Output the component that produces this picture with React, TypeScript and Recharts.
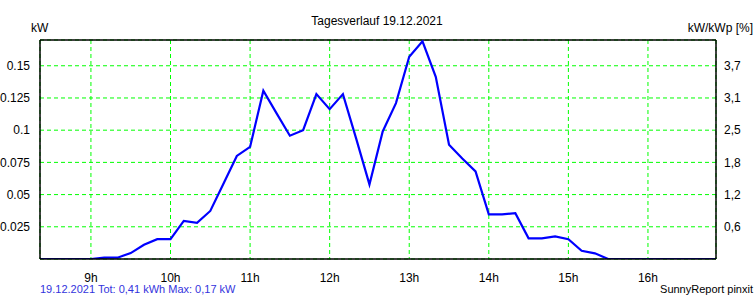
import React from 'react'
import {
  LineChart,
  Line,
  XAxis,
  YAxis,
  CartesianGrid,
  ReferenceLine,
} from 'recharts'

// Tagesverlauf 19.12.2021 — 10-minute power readings (kW)
const times = [
  '08:20', '08:30', '08:40', '08:50', '09:00', '09:10', '09:20', '09:30', '09:40', '09:50',
  '10:00', '10:10', '10:20', '10:30', '10:40', '10:50', '11:00', '11:10', '11:20', '11:30',
  '11:40', '11:50', '12:00', '12:10', '12:20', '12:30', '12:40', '12:50', '13:00', '13:10',
  '13:20', '13:30', '13:40', '13:50', '14:00', '14:10', '14:20', '14:30', '14:40', '14:50',
  '15:00', '15:10', '15:20', '15:30', '15:40', '15:50', '16:00', '16:10', '16:20', '16:30',
  '16:40', '16:50', '17:00',
]
const powerKw = [
  0, 0, 0, 0, 0, 0.001, 0.001, 0.0046, 0.011, 0.0154,
  0.0154, 0.0296, 0.028, 0.0373, 0.0586, 0.08, 0.087, 0.1306, 0.113, 0.0957,
  0.1, 0.128, 0.1163, 0.128, 0.0934, 0.0579, 0.099, 0.121, 0.157, 0.169,
  0.1414, 0.0887, 0.078, 0.068, 0.0347, 0.0347, 0.0355, 0.016, 0.016, 0.0175,
  0.0154, 0.0064, 0.0044, 0, 0, 0, 0, 0, 0, 0,
  0, 0, 0,
]
const hourTicks = [9, 10, 11, 12, 13, 14, 15, 16]
const kwTicks = [0.025, 0.05, 0.075, 0.1, 0.125, 0.15]
const kwTickLabels = ['0.025', '0.05', '0.075', '0.1', '0.125', '0.15']
const pctTickLabels = ['0,6', '1,2', '1,8', '2,5', '3,1', '3,7']

const toHours = (t: string) => {
  const [h, m] = t.split(':').map(Number)
  return h + m / 60
}

const data = times.map((t, i) => ({ hour: toHours(t), kw: powerKw[i] }))

const font = '"Liberation Sans", Arial, sans-serif'
const tickStyle = { fontSize: 12, fill: '#000', fontFamily: font }

if (typeof document !== 'undefined') document.body.style.margin = '0'

export default function App() {
  return (
    <div style={{ position: 'relative', width: 756, height: 300, background: '#fff' }}>
      <LineChart
        width={756}
        height={300}
        data={data}
        margin={{ top: 40, right: 0, left: 0, bottom: 0 }}
      >
        <CartesianGrid yAxisId="left" stroke="#00ff00" strokeDasharray="4 3" />
        <XAxis
          dataKey="hour"
          type="number"
          domain={[8.36, 16.855]}
          allowDataOverflow
          ticks={hourTicks}
          tickFormatter={(v: number) => `${v}h`}
          tick={tickStyle}
          tickLine={false}
          tickMargin={8}
          axisLine={{ stroke: '#000', strokeWidth: 1.5 }}
          height={41}
        />
        <YAxis
          yAxisId="left"
          domain={[0, 0.17]}
          allowDataOverflow
          ticks={kwTicks}
          tickFormatter={(v: number) => kwTickLabels[kwTicks.indexOf(v)] ?? ''}
          tick={tickStyle}
          tickLine={false}
          tickMargin={4}
          axisLine={{ stroke: '#000', strokeWidth: 1.5 }}
          width={40}
        />
        <YAxis
          yAxisId="right"
          orientation="right"
          domain={[0, 0.17]}
          allowDataOverflow
          ticks={kwTicks}
          tickFormatter={(v: number) => pctTickLabels[kwTicks.indexOf(v)] ?? ''}
          tick={{ ...tickStyle, textAnchor: 'start' }}
          tickLine={false}
          tickMargin={2}
          axisLine={{ stroke: '#000', strokeWidth: 1.5 }}
          width={40}
        />
        <ReferenceLine yAxisId="left" y={0.17} stroke="#000" strokeWidth={1.5} ifOverflow="visible" />
        <Line
          yAxisId="left"
          type="linear"
          dataKey="kw"
          stroke="#0000ff"
          strokeWidth={2.2}
          dot={false}
          activeDot={false}
          isAnimationActive={false}
        />
      </LineChart>
      <svg
        width={756}
        height={300}
        style={{ position: 'absolute', left: 0, top: 0, pointerEvents: 'none' }}
      >
        <text x={377} y={25} textAnchor="middle" fontSize={12} fontFamily={font} fill="#000">
          Tagesverlauf 19.12.2021
        </text>
        <text x={31} y={32} fontSize={12} fontFamily={font} fill="#000">
          kW
        </text>
        <text x={753} y={32} textAnchor="end" fontSize={12} fontFamily={font} fill="#000">
          kW/kWp [%]
        </text>
        <text x={40} y={293} fontSize={11} fontFamily={font} fill="#3333dd">
          19.12.2021 Tot: 0,41 kWh Max: 0,17 kW
        </text>
        <text x={753} y={293} textAnchor="end" fontSize={11} fontFamily={font} fill="#000">
          SunnyReport pinxit
        </text>
      </svg>
    </div>
  )
}
